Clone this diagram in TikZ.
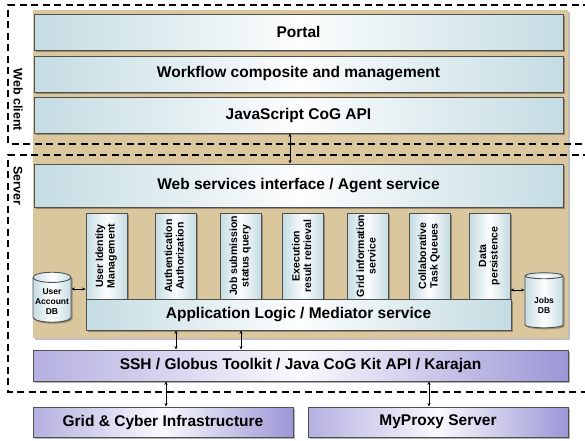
\documentclass[tikz,border=0pt]{standalone}
\usepackage{fontspec}
\setmainfont{Liberation Sans}
\usetikzlibrary{arrows.meta,shapes.geometric,shadows}
\definecolor{tan}{HTML}{DAC79D}
\definecolor{boxblue}{HTML}{C4DCE2}
\definecolor{purpL}{HTML}{B4B0E1}
\definecolor{purpR}{HTML}{9B96D7}
\definecolor{edge}{HTML}{505050}
\tikzset{
  shd/.style={drop shadow={shadow xshift=1.5pt,shadow yshift=-1.5pt,opacity=0.3,fill=black}},
  layer/.style={draw=edge,line width=0.9pt,left color=boxblue,right color=boxblue,middle color=white!95!boxblue,
    inner sep=0pt,font=\bfseries\fontsize{15.5}{17}\selectfont,shd},
  vbox/.style={layer,minimum width=41pt,minimum height=86pt,font=\bfseries\fontsize{10.5}{11.5}\selectfont,align=center},
  pbox/.style={draw=edge,line width=0.9pt,left color=purpL,right color=purpR,middle color=white!92!purpL,
    inner sep=0pt,font=\bfseries\fontsize{15.5}{17}\selectfont,shd},
  db/.style={cylinder,shape border rotate=90,aspect=0.3,draw=edge,line width=0.9pt,
    left color=boxblue,right color=boxblue,middle color=white,inner sep=0pt,align=center,
    font=\bfseries\fontsize{8.5}{10}\selectfont,shd},
  dbl/.style={{Stealth[length=3.5pt,width=3pt]}-{Stealth[length=3.5pt,width=3pt]},line width=0.6pt},
  zone/.style={dashed,dash pattern=on 7pt off 4.5pt,line width=1.3pt},
  zlabel/.style={rotate=-90,font=\bfseries\fontsize{12.5}{14}\selectfont}
}
\begin{document}
\begin{tikzpicture}[x=1pt,y=-1pt]
\useasboundingbox[fill=white] (0,0) rectangle (585,440);
% tan background
\fill[tan,drop shadow={shadow xshift=2pt,shadow yshift=-2pt,opacity=0.25,fill=black}] (33,10) rectangle (568,338);
% dashed zones
\draw[zone] (590,5) -- (8,5) -- (8,144) -- (590,144);
\draw[zone] (590,155) -- (8,155) -- (8,392) -- (590,392);
\node[zlabel] (wc) at (18,100) {Web client};
\node[zlabel] (sv) at (18,185.5) {Server};
% layers
\node[layer,minimum width=529pt,minimum height=36pt] (portal) at (298.5,32) {Portal};
\node[layer,minimum width=529pt,minimum height=36pt] (wf) at (298.5,74) {Workflow composite and management};
\node[layer,minimum width=529pt,minimum height=36pt] (js) at (298.5,115) {JavaScript CoG API};
\node[layer,minimum width=529pt,minimum height=43pt] (ws) at (298.5,185.5) {Web services interface / Agent service};
% vertical services
\node[vbox] (v1) at (106.5,256) {\rotatebox{90}{\begin{tabular}{@{}c@{}}User Identity\\Management\end{tabular}}};
\node[vbox] (v2) at (175.5,256) {\rotatebox{90}{\begin{tabular}{@{}c@{}}Authentication\\Authorization\end{tabular}}};
\node[vbox] (v3) at (240.5,256) {\rotatebox{90}{\begin{tabular}{@{}c@{}}Job submission\\status query\end{tabular}}};
\node[vbox] (v4) at (303,256) {\rotatebox{90}{\begin{tabular}{@{}c@{}}Execution\\result retrieval\end{tabular}}};
\node[vbox] (v5) at (367.5,256) {\rotatebox{90}{\begin{tabular}{@{}c@{}}Grid information\\service\end{tabular}}};
\node[vbox] (v6) at (429.5,256) {\rotatebox{90}{\begin{tabular}{@{}c@{}}Collaborative\\Task Queues\end{tabular}}};
\node[vbox] (v7) at (489.5,256) {\rotatebox{90}{\begin{tabular}{@{}c@{}}Data\\persistence\end{tabular}}};
\node[layer,minimum width=425pt,minimum height=31pt] (app) at (298.5,314.5) {Application Logic / Mediator service};
% databases
\node[db,minimum width=38pt,minimum height=50pt] (udb) at (52,300) {\\[-2pt]User\\Account\\DB};
\node[db,minimum width=38pt,minimum height=55pt] (jdb) at (544,302) {\\[2pt]Jobs\\DB};
% lower layers
\node[pbox,minimum width=535pt,minimum height=31pt] (ssh) at (300.5,365.5) {SSH / Globus Toolkit / Java CoG Kit API / Karajan};
\node[pbox,minimum width=260pt,minimum height=30pt] (grid) at (163,422) {Grid \& Cyber Infrastructure};
\node[pbox,minimum width=260pt,minimum height=30pt] (myp) at (438,422) {MyProxy Server};
% connectors
\draw[dbl] (js.south -| 290,0) -- (ws.north -| 290,0);
\draw[dbl] (udb.east |- 0,289) -- (v1.west |- 0,289);
\draw[dbl] (v7.east |- 0,290) -- (jdb.west |- 0,290);
\draw[dbl] (app.south -| 176,0) -- (ssh.north -| 176,0);
\draw[dbl] (app.south -| 241,0) -- (ssh.north -| 241,0);
\draw[dbl] (ssh.south -| 166,0) -- (grid.north -| 166,0);
\draw[dbl] (ssh.south -| 429,0) -- (myp.north -| 429,0);
\end{tikzpicture}
\end{document}
